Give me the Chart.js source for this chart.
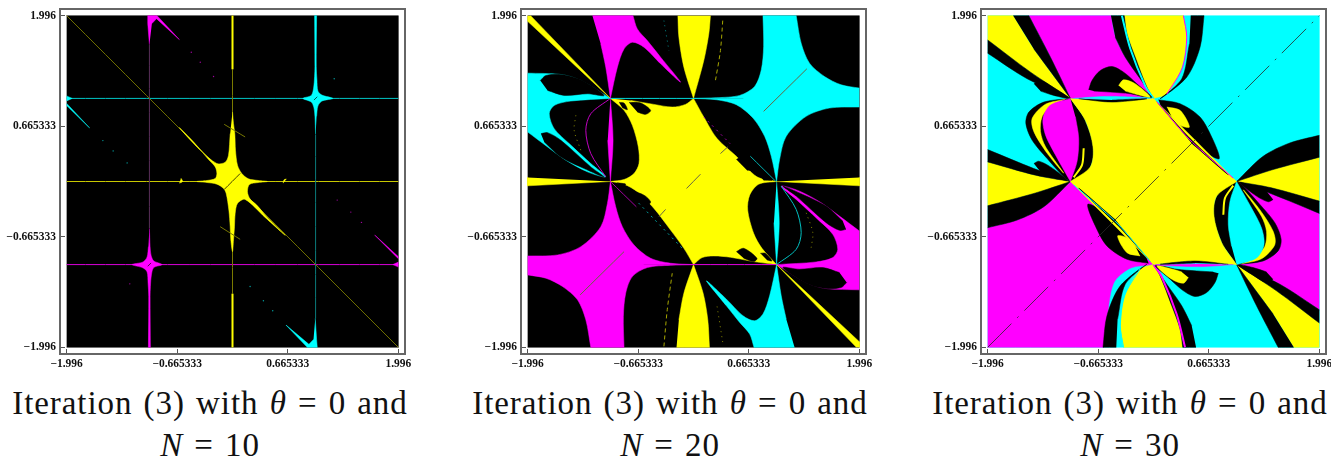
<!DOCTYPE html>
<html>
<head>
<meta charset="utf-8">
<script src="https://cdn.jsdelivr.net/npm/chart.js@4"></script>
<style>
  html, body { margin: 0; background: #fff; overflow: hidden; width: 1331px; height: 458px; }
  canvas { position: absolute; top: 0; }
  .cap { position: absolute; width: 460px; text-align: center; font: 33px/42px "Liberation Serif", serif; color: #111; top: 382px; word-spacing: 2px; letter-spacing: 0.93px; white-space: nowrap; }
</style>
</head>
<body>
<canvas id="c10" width="440" height="372" style="left:0"></canvas>
<canvas id="c20" width="440" height="372" style="left:461px"></canvas>
<canvas id="c30" width="440" height="372" style="left:921px"></canvas>
<div class="cap" style="left:-20px">Iteration (3) with <i>θ</i> = 0 and<br><i>N</i> = 10</div>
<div class="cap" style="left:440px">Iteration (3) with <i>θ</i> = 0 and<br><i>N</i> = 20</div>
<div class="cap" style="left:900px">Iteration (3) with <i>θ</i> = 0 and<br><i>N</i> = 30</div>
<script>
const tickValues = [-1.996, -0.665333, 0.665333, 1.996];
const tickLabels = ["−1.996", "−0.665333", "0.665333", "1.996"];
const plotRect = [-1.996,-1.996, 1.996,-1.996, 1.996,1.996, -1.996,1.996];

// N = 10
const n10YellowStar = [0,0.836, 0.012,0.696, 0.028,0.576, 0.036,0.376, 0.06,0.196, 0.112,0.096, 0.192,0.032, 0.312,0.012, 0.42,0, 0.312,-0.012, 0.204,-0.036, 0.18,-0.124, 0.212,-0.212, 0.292,-0.284, 0.412,-0.424, 0.636,-0.648, 0.392,-0.432, 0.152,-0.216, 0.06,-0.264, 0.032,-0.384, 0.024,-0.544, 0.012,-0.704, 0,-0.844, -0.02,-0.704, -0.028,-0.544, -0.044,-0.344, -0.076,-0.144, -0.108,-0.084, -0.188,-0.032, -0.308,-0.012, -0.428,0, -0.308,0.012, -0.208,0.036, -0.188,0.096, -0.208,0.176, -0.288,0.264, -0.468,0.476, -0.64,0.648, -0.388,0.376, -0.188,0.216, -0.088,0.232, -0.048,0.316, -0.028,0.576];
const n10MagentaStar = [-1,-0.564, -0.992,-0.784, -0.98,-0.888, -0.948,-0.956, -0.848,-1, -0.948,-1.036, -0.976,-1.124, -0.988,-1.264, -0.992,-1.384, -0.988,-1.996, -1.012,-1.996, -1.008,-1.384, -1.016,-1.224, -1.028,-1.088, -1.076,-1.04, -1.208,-1, -1.076,-0.968, -1.028,-0.908, -1.012,-0.784];
const n10CyanStar = [1,0.564, 0.992,0.784, 0.98,0.888, 0.948,0.956, 0.848,1, 0.948,1.036, 0.976,1.124, 0.988,1.264, 0.992,1.384, 0.988,1.996, 1.012,1.996, 1.008,1.384, 1.016,1.224, 1.028,1.088, 1.076,1.04, 1.208,1, 1.076,0.968, 1.028,0.908, 1.012,0.784];
const n10CyanFoot = [0.996,-1.648, 1.012,-1.9, 1.02,-1.996, 0.9,-1.996, 0.644,-1.728, 0.92,-1.96, 0.975,-1.9];
const n10MagentaHead = [-1,1.65, -1.02,1.9, -1.02,1.996, -0.908,1.996, -0.64,1.708, -0.915,1.96, -0.97,1.9];
const n10CyanEdge = [-1.996,1.03, -1.93,1, -1.996,0.97];
const n10CyanTail = [-1.996,0.94, -1.72,0.645, -1.996,0.915];
const n10MagentaEdge = [1.996,-1.03, 1.93,-1, 1.996,-0.97];
const n10MagentaTail = [1.996,-0.93, 1.712,-0.645, 1.996,-0.905];
const n10BumpLeft = [-0.62,0.04, -0.6,0, -0.64,-0.02];
const n10BumpRight = [0.61,-0.02, 0.62,0.02, 0.65,0.03];
const n10SpecksMagenta = [-0.496,1.556, -0.388,1.436, -0.228,1.264, 1.26,-0.224, 1.424,-0.368, 1.552,-0.492, -1.236,-1.232];
const n10SpecksCyan = [1.224,1.236, -1.56,0.492, -1.436,0.368, -1.268,0.224, 0.212,-1.264, 0.372,-1.436, 0.484,-1.556];

// N = 20
const n20MagentaTop = [-1.216,1.996, -0.728,1.996, -0.676,1.836, -0.556,1.696, -0.396,1.496, -0.156,1.196, -0.396,1.416, -0.596,1.616, -0.736,1.676, -0.836,1.596, -0.916,1.376, -1,1, -1.056,1.376, -1.116,1.656];
const n20MagentaLens = [-1,1, -0.968,0.496, -1,0, -1.032,0.496];
const n20MagentaLow = [-1.996,-0.896, -1.636,-0.884, -1.356,-0.784, -1.116,-0.544, -1.036,-0.264, -1,0, -0.936,-0.304, -0.856,-0.544, -0.716,-0.764, -0.516,-0.924, -0.276,-0.984, 0,-1, -0.276,-1.008, -0.556,-1.036, -0.736,-1.144, -0.816,-1.344, -0.844,-1.624, -0.836,-1.996, -1.236,-1.996, -1.296,-1.664, -1.396,-1.424, -1.576,-1.264, -1.776,-1.164, -1.996,-1.124];
const n20CyanHigh = [1.996,0.896, 1.636,0.884, 1.356,0.784, 1.116,0.544, 1.036,0.264, 1,0, 0.936,0.304, 0.856,0.544, 0.716,0.764, 0.516,0.924, 0.276,0.984, 0,1, 0.276,1.008, 0.556,1.036, 0.736,1.144, 0.816,1.344, 0.844,1.624, 0.836,1.996, 1.236,1.996, 1.296,1.664, 1.396,1.424, 1.576,1.264, 1.776,1.164, 1.996,1.124];
const n20CyanLens = [1,0, 1.032,-0.496, 1,-1, 0.968,-0.496];
const n20CyanBottom = [1.216,-1.996, 0.728,-1.996, 0.676,-1.836, 0.556,-1.696, 0.396,-1.496, 0.156,-1.196, 0.396,-1.416, 0.596,-1.616, 0.736,-1.676, 0.836,-1.596, 0.916,-1.376, 1,-1, 1.056,-1.376, 1.116,-1.656];
const n20CyanLeft = [-1.996,1.304, -1.596,1.288, -1.356,1.216, -1,1, -1.476,0.968, -1.676,0.916, -1.736,0.816, -1.676,0.636, -1.496,0.456, -1.236,0.216, -1.056,0.056, -1.276,0.116, -1.536,0.256, -1.756,0.416, -1.996,0.596];
const n20MagentaRight = [1.996,-1.304, 1.596,-1.288, 1.356,-1.216, 1,-1, 1.476,-0.968, 1.676,-0.916, 1.736,-0.816, 1.676,-0.636, 1.496,-0.456, 1.236,-0.216, 1.056,-0.056, 1.276,-0.116, 1.536,-0.256, 1.756,-0.416, 1.996,-0.596];
const n20LeafLeftA = [-1.844,1.216, -1.776,1.276, -1.596,1.288, -1.356,1.224, -1.076,1.036, -1.276,1.056, -1.556,1.036, -1.756,1.096];
const n20LeafLeftB = [-1.836,0.576, -1.756,0.588, -1.596,0.496, -1.236,0.176, -1.076,0.056, -1.316,0.156, -1.596,0.296, -1.796,0.476];
const n20LeafRightA = [1.844,-1.216, 1.776,-1.276, 1.596,-1.288, 1.356,-1.224, 1.076,-1.036, 1.276,-1.056, 1.556,-1.036, 1.756,-1.096];
const n20LeafRightB = [1.836,-0.576, 1.756,-0.588, 1.596,-0.496, 1.236,-0.176, 1.076,-0.056, 1.316,-0.156, 1.596,-0.296, 1.796,-0.476];
const n20YellowLeft = [-1.996,0.048, -1.996,-0.052, -1,0];
const n20YellowRight = [1.996,0.048, 1.996,-0.052, 1,0];
const n20YellowCornerTL = [-1.96,1.996, -1,1, -1.996,1.928, -1.996,1.996];
const n20YellowCornerBR = [1.96,-1.996, 1,-1, 1.996,-1.928, 1.996,-1.996];
const n20YellowTop = [-0.188,1.996, -0.176,1.736, -0.116,1.376, 0,1, 0.124,1.456, 0.184,1.776, 0.204,1.996];
const n20YellowBottom = [-0.204,-1.996, 0.192,-1.996, 0.172,-1.664, 0.116,-1.344, 0,-1, -0.116,-1.344, -0.176,-1.664];
const n20YellowCentre = [-1,1, -0.836,0.856, -0.736,0.676, -0.664,0.416, -0.656,0.216, -0.716,0.096, -0.836,0.024, -1,0, -0.836,-0.032, -0.676,-0.124, -0.476,-0.324, -0.276,-0.584, -0.116,-0.804, 0,-1, 0.104,-0.916, 0.244,-0.896, 0.444,-0.912, 0.724,-0.964, 1,-1, 0.824,-0.804, 0.724,-0.624, 0.652,-0.344, 0.676,-0.164, 0.784,-0.032, 1,0, 0.764,0.056, 0.524,0.296, 0.284,0.516, 0.124,0.776, 0,1, -0.096,0.928, -0.256,0.896, -0.476,0.928, -0.756,0.976];
const n20LeafA = [-0.896,0.952, -0.836,0.944, -0.796,0.864, -0.856,0.888];
const n20LeafB = [-0.776,0.952, -0.636,0.944, -0.516,0.856, -0.576,0.808, -0.676,0.836];
const n20LeafC = [-0.916,-0.016, -0.816,-0.032, -0.856,-0.064];
const n20LeafD = [-0.736,-0.112, -0.596,-0.164, -0.516,-0.244, -0.556,-0.284, -0.676,-0.216];
const n20LeafE = [0.516,0.264, 0.564,0.288, 0.724,0.136, 0.644,0.136];
const n20LeafF = [0.804,0.056, 0.944,0.016, 0.844,0.016];
const n20LeafG = [0.516,-0.844, 0.604,-0.804, 0.764,-0.924, 0.724,-0.964, 0.604,-0.924];
const n20LeafH = [0.804,-0.864, 0.864,-0.864, 0.944,-0.956, 0.884,-0.944];
const n20ArcMagenta = [-1,1, -1.236,0.816, -1.296,0.616, -1.236,0.336, -1.056,0.056];
const n20ArcCyan = [1,-1, 1.236,-0.816, 1.296,-0.616, 1.236,-0.336, 1.056,-0.056];
const n20ArcYellowL = [-1.416,0.796, -1.436,0.616, -1.356,0.376];
const n20ArcYellowR = [1.416,-0.796, 1.436,-0.616, 1.356,-0.376];
const n20DotsTopR = [0.352,1.936, 0.324,1.576, 0.264,1.216];
const n20DotsBottomL = [-0.356,-1.984, -0.316,-1.544, -0.256,-1.104];
const n20DotsTopL = [-0.356,1.936, -0.296,1.576];
const n20DotsBottomR = [0.284,-1.504, 0.352,-1.936];
const n20DotsSW = [-0.66,-0.26, -0.12,-0.82];
const n20DotsNE = [0.124,0.776, 0.44,0.456];
const n20TailMagenta = [-1,0, -0.688,-0.304];
const n20TailCyan = [0.684,0.304, 0.992,0];
const n20Dash = [
  [0.324,0.336, 0.412,0.416], [-0.084,-0.084, 0.084,0.088], [-0.416,-0.424, -0.336,-0.336],
  [-1.364,-1.364, -0.836,-0.844], [0.844,0.844, 1.364,1.356]
];

// N = 30
const n30MagentaLow = [-1.996,-0.556, -1.64,-0.464, -1.32,-0.304, -1,0, 0,-1, -0.28,-1.044, -0.48,-1.224, -0.56,-1.664, -0.6,-1.996, -1.996,-1.996];
const n30MagentaTop = [-1.5,1.996, -0.512,1.996, -0.46,1.736, -0.34,1.496, -0.16,1.236, 0,1, -1,1, -1.24,1.496];
const n30MagentaRight = [1.996,-1.544, 1.52,-1.236, 1,-1, 1.32,-0.956, 1.5,-0.836, 1.528,-0.696, 1.44,-0.496, 1.28,-0.296, 1,0, 1.44,-0.156, 1.996,-0.384];
const n30YellowTL = [-1.996,1.996, -1.688,1.996, -1.44,1.596, -1,1, -1.48,1.316, -1.996,1.704];
const n30YellowBR = [1.996,-1.996, 1.688,-1.996, 1.44,-1.596, 1,-1, 1.48,-1.316, 1.996,-1.704];
const n30YellowL = [-1.996,0.236, -1.42,0.076, -1,0, -1.44,-0.144, -1.996,-0.292];
const n30YellowR = [1.996,-0.236, 1.42,-0.076, 1,0, 1.44,0.144, 1.996,0.292];
const n30YellowTop = [-0.352,1.996, 0.36,1.996, 0.392,1.736, 0.34,1.376, 0.16,1.056, 0,1, -0.08,1.136, -0.22,1.496, -0.32,1.776];
const n30YellowBottom = [0.352,-1.996, -0.36,-1.996, -0.392,-1.736, -0.34,-1.376, -0.16,-1.056, 0,-1, 0.08,-1.136, 0.22,-1.496, 0.32,-1.776];
const n30YellowCentre = [-1,1, -0.82,0.736, -0.728,0.416, -0.76,0.176, -1,0, 0,-1, 0.44,-0.964, 1,-1, 0.82,-0.736, 0.728,-0.416, 0.76,-0.176, 1,0, 0,1, -0.44,0.964];
const n30BlackTLa = [-1.688,1.996, -1.5,1.996, -1.24,1.496, -1,1, -1.44,1.596];
const n30BlackBRa = [1.688,-1.996, 1.5,-1.996, 1.24,-1.496, 1,-1, 1.44,-1.596];
const n30BlackTLb = [-1.996,1.704, -1.48,1.316, -1,1, -1.52,1.236, -1.996,1.544];
const n30BlackBRb = [1.996,-1.704, 1.48,-1.316, 1,-1, 1.52,-1.236, 1.996,-1.544];
const n30BlackLa = [-1.996,0.384, -1.44,0.156, -1,0, -1.42,0.076, -1.996,0.236];
const n30BlackRa = [1.996,-0.384, 1.44,-0.156, 1,0, 1.42,-0.076, 1.996,-0.236];
const n30BlackLb = [-1.996,-0.292, -1.44,-0.144, -1,0, -1.32,-0.304, -1.64,-0.464, -1.996,-0.556];
const n30BlackRb = [1.996,0.292, 1.44,0.144, 1,0, 1.32,0.304, 1.64,0.464, 1.996,0.556];
const n30BlackTopL = [-0.512,1.996, -0.352,1.996, -0.32,1.776, -0.22,1.496, -0.08,1.136, 0,1, -0.16,1.236, -0.34,1.496, -0.46,1.736];
const n30BlackBotR = [0.512,-1.996, 0.352,-1.996, 0.32,-1.776, 0.22,-1.496, 0.08,-1.136, 0,-1, 0.16,-1.236, 0.34,-1.496, 0.46,-1.736];
const n30BlackTopR = [0.448,1.996, 0.608,1.996, 0.56,1.616, 0.4,1.256, 0.08,0.996, 0.34,1.236, 0.432,1.656];
const n30BlackBotL = [-0.448,-1.996, -0.608,-1.996, -0.56,-1.616, -0.4,-1.256, -0.08,-0.996, -0.34,-1.236, -0.432,-1.656];
const n30LeafUp = [-0.78,1.104, -0.74,1.216, -0.64,1.336, -0.5,1.384, -0.36,1.316, -0.2,1.176, -0.02,1.008, -0.28,1.056, -0.52,1.076, -0.72,1.088];
const n30LeafDown = [0.78,-1.104, 0.74,-1.216, 0.64,-1.336, 0.5,-1.384, 0.36,-1.316, 0.2,-1.176, 0.02,-1.008, 0.28,-1.056, 0.52,-1.076, 0.72,-1.088];
const n30LeafUpY = [-0.42,1.156, -0.36,1.224, -0.22,1.176, -0.04,1.016, -0.2,1.048, -0.34,1.088];
const n30LeafDownY = [0.42,-1.156, 0.36,-1.224, 0.22,-1.176, 0.04,-1.016, 0.2,-1.048, 0.34,-1.088];
const n30LeafNE = [0.06,0.984, 0.32,0.936, 0.56,0.776, 0.7,0.536, 0.792,0.276, 0.64,0.336, 0.44,0.476, 0.28,0.596, 0.12,0.816];
const n30LeafNEY = [0.16,0.896, 0.32,0.856, 0.432,0.656, 0.32,0.676, 0.22,0.776];
const n30LeafSW = [-0.06,-0.984, -0.32,-0.936, -0.56,-0.776, -0.7,-0.536, -0.792,-0.276, -0.64,-0.336, -0.44,-0.476, -0.28,-0.596, -0.12,-0.816];
const n30LeafSWY = [-0.16,-0.896, -0.32,-0.856, -0.432,-0.656, -0.32,-0.676, -0.22,-0.776];
const n30LensNE = [0.04,0.96, 0.42,0.54, 0.9,0.08, 0.46,0.46];
const n30LensSW = [-0.04,-0.96, -0.42,-0.54, -0.9,-0.08, -0.46,-0.46];
const n30LineNE = [0.04,0.96, 0.44,0.5, 0.96,0.04];
const n30LineSW = [-0.04,-0.96, -0.44,-0.5, -0.96,-0.04];
const n30LeafLa = [-1.44,1.176, -1.36,1.216, -1.2,1.128, -1.02,1.004, -1.2,1.036, -1.36,1.088];
const n30LeafRa = [1.44,-1.176, 1.36,-1.216, 1.2,-1.128, 1.02,-1.004, 1.2,-1.036, 1.36,-1.088];
const n30LeafLb = [-1.44,0.216, -1.38,0.244, -1.24,0.176, -1.04,0.016, -1.2,0.056, -1.36,0.116];
const n30LeafRb = [1.44,-0.216, 1.38,-0.244, 1.24,-0.176, 1.04,-0.016, 1.2,-0.056, 1.36,-0.116];
const n30ArcBlackL = [-1,1, -1.32,0.956, -1.5,0.836, -1.536,0.696, -1.46,0.496, -1.28,0.276, -1.06,0.036, -1,0, -0.8,0.116, -0.728,0.296, -0.74,0.496, -0.84,0.776];
const n30ArcBlackR = [1,-1, 1.32,-0.956, 1.5,-0.836, 1.536,-0.696, 1.46,-0.496, 1.28,-0.276, 1.06,-0.036, 1,0, 0.8,-0.116, 0.728,-0.296, 0.74,-0.496, 0.84,-0.776];
const n30ArcYellowL = [-1.06,0.99, -1.3,0.93, -1.46,0.76, -1.44,0.6, -1.28,0.34, -1.08,0.1, -1.3,0.42, -1.36,0.6, -1.34,0.78, -1.22,0.92];
const n30ArcYellowR = [1.06,-0.99, 1.3,-0.93, 1.46,-0.76, 1.44,-0.6, 1.28,-0.34, 1.08,-0.1, 1.3,-0.42, 1.36,-0.6, 1.34,-0.78, 1.22,-0.92];
const n30ThinYellowL = [-0.96,0.05, -0.86,0.2, -0.84,0.4];
const n30ThinYellowR = [0.96,-0.05, 0.86,-0.2, 0.84,-0.4];
const n30InnerMagenta = [-1,1, -1.24,0.92, -1.33,0.76, -1.3,0.56, -1.18,0.32, -1,0, -0.92,0.24, -0.9,0.52, -0.94,0.78];
const n30InnerCyan = [1,-1, 1.24,-0.92, 1.33,-0.76, 1.3,-0.56, 1.18,-0.32, 1,0, 0.92,-0.24, 0.9,-0.52, 0.94,-0.78];
const n30TopCyan = [-0.96,1, -0.56,1.024, -0.02,1.004, -0.56,0.992];
const n30TopBlack = [-0.9,0.996, -0.5,0.956, -0.08,0.996, -0.5,0.98];
const n30BotMagenta = [0.96,-1, 0.56,-1.024, 0.02,-1.004, 0.56,-0.992];
const n30BotBlack = [0.9,-0.996, 0.5,-0.956, 0.08,-0.996, 0.5,-0.98];
const n30StripeTR = [0.36,1.996, 0.4,1.736, 0.35,1.376, 0.16,1.05];
const n30StripeBL = [-0.36,-1.996, -0.4,-1.736, -0.35,-1.376, -0.16,-1.05];
const n30StripeTL = [-0.38,1.996, -0.28,1.6, -0.1,1.15, 0,1];
const n30StripeBR = [0.38,-1.996, 0.28,-1.6, 0.1,-1.15, 0,-1];
const n30Diagonal = [-1.996,-1.996, 1.996,1.996];

const Y = "#ffff00", M = "#ff00ff", C = "#00ffff", K = "#000000";

function xy(flat) {
  const out = [];
  for (let i = 0; i < flat.length; i += 2) out.push({ x: flat[i], y: flat[i + 1] });
  return out;
}
// vertices on the plot edge or on a junction stay sharp: a doubled point has no curve through it
function isCorner(p) {
  const onEdge = Math.abs(p.x) > 1.99 || Math.abs(p.y) > 1.99;
  const onJunction = Number.isInteger(p.x) && Number.isInteger(p.y);
  return onEdge || onJunction;
}
function outline(flat) {
  const out = [];
  xy(flat).forEach(function(p) {
    out.push(p);
    if (isCorner(p)) out.push({ x: p.x, y: p.y });
  });
  return out;
}
function shape(flat, color, tension) {
  return { data: outline(flat), showLine: true, fill: "shape", backgroundColor: color, borderColor: color, borderWidth: 0.5, pointRadius: 0, tension: tension === undefined ? 0.3 : tension };
}
function stroke(flat, color, width, dash) {
  return { data: xy(flat), showLine: true, fill: false, borderColor: color, borderWidth: width || 1, borderDash: dash || [], pointRadius: 0, tension: 0.3 };
}
function specks(flat, color) {
  return { data: xy(flat), showLine: false, pointRadius: 0.7, pointBorderWidth: 0, backgroundColor: color };
}

const n10Layers = [
  shape(plotRect, K, 0),
  stroke([-1.996,1, 1.996,1], "#00c4c4"),
  stroke([-1.996,0, 1.996,0], "#c8c800"),
  stroke([-1.996,-1, 1.996,-1], "#d800d8"),
  stroke([-1,1.65, -1,-0.56], "#5a2f5a"),
  stroke([1,0.56, 1,-1.65], "#0b7a7a"),
  stroke([0,1.35, 0,-1.35], "#7a7a00"),
  stroke([-1.996,1.996, 1.996,-1.996], "#6e6e00"),
  stroke([0,1.996, 0,1.35], Y, 2),
  stroke([0,-1.35, 0,-1.996], Y, 2),
  shape(n10YellowStar, Y),
  stroke([-0.1,-0.096, 0.092,0.096], "#444400"),
  stroke([-0.1,0.688, 0.152,0.536], "#777700"),
  stroke([-0.148,-0.544, 0.092,-0.696], "#777700"),
  shape(n10BumpLeft, Y),
  shape(n10BumpRight, Y),
  shape(n10MagentaStar, M),
  stroke([-1.02,-1.02, -0.98,-0.98], "#550055"),
  shape(n10CyanStar, C),
  stroke([0.98,0.98, 1.02,1.02], "#005555"),
  shape(n10CyanFoot, C, 0),
  shape(n10MagentaHead, M, 0),
  shape(n10CyanEdge, C, 0),
  shape(n10CyanTail, C, 0),
  shape(n10MagentaEdge, M, 0),
  shape(n10MagentaTail, M, 0),
  specks(n10SpecksMagenta, "#a000a0"),
  specks(n10SpecksCyan, "#00a0a0")
];

const n20Layers = [
  shape(plotRect, K, 0),
  shape(n20MagentaTop, M),
  shape(n20MagentaLens, M),
  shape(n20MagentaLow, M),
  shape(n20CyanHigh, C),
  shape(n20CyanLens, C),
  shape(n20CyanBottom, C),
  shape(n20CyanLeft, C),
  shape(n20MagentaRight, M),
  shape(n20LeafLeftA, K),
  shape(n20LeafLeftB, K),
  shape(n20LeafRightA, K),
  shape(n20LeafRightB, K),
  shape(n20YellowLeft, Y, 0),
  shape(n20YellowRight, Y, 0),
  shape(n20YellowCornerTL, Y, 0),
  shape(n20YellowCornerBR, Y, 0),
  shape(n20YellowTop, Y),
  shape(n20YellowBottom, Y),
  shape(n20YellowCentre, Y),
  shape(n20LeafA, K), shape(n20LeafB, K), shape(n20LeafC, K), shape(n20LeafD, K),
  shape(n20LeafE, K), shape(n20LeafF, K), shape(n20LeafG, K), shape(n20LeafH, K),
  stroke([-1,1, 0.6,1], "#00d8d8"),
  stroke([-0.6,-1, 1,-1], "#e000e0"),
  stroke(n20ArcMagenta, "#c000c0"),
  stroke(n20ArcCyan, "#00c0c0"),
  stroke(n20ArcYellowL, "#8a8a00", 1, [1, 4]),
  stroke(n20ArcYellowR, "#8a8a00", 1, [1, 4]),
  stroke(n20DotsTopR, "#a8a800", 1, [4, 3]),
  stroke(n20DotsBottomL, "#a8a800", 1, [4, 3]),
  stroke(n20DotsTopL, "#008888", 1, [1, 4]),
  stroke(n20DotsBottomR, "#888800", 1, [1, 4]),
  stroke(n20DotsSW, "#00a0a0", 1, [2, 4]),
  stroke(n20DotsNE, "#a000a0", 1, [2, 4]),
  stroke(n20TailMagenta, "#a000a0"),
  stroke(n20TailCyan, "#00b0b0")
].concat(n20Dash.map(function(d) { return stroke(d, "#666644"); }));

const n30Layers = [
  shape(plotRect, C, 0),
  shape(n30MagentaLow, M),
  shape(n30MagentaTop, M),
  shape(n30MagentaRight, M),
  shape(n30YellowTL, Y), shape(n30YellowBR, Y),
  shape(n30YellowL, Y), shape(n30YellowR, Y),
  shape(n30YellowTop, Y), shape(n30YellowBottom, Y),
  shape(n30BlackTLa, K), shape(n30BlackBRa, K),
  shape(n30BlackTLb, K), shape(n30BlackBRb, K),
  shape(n30BlackLa, K), shape(n30BlackRa, K),
  shape(n30BlackLb, K), shape(n30BlackRb, K),
  shape(n30BlackTopL, K), shape(n30BlackBotR, K),
  shape(n30BlackTopR, K), shape(n30BlackBotL, K),
  stroke(n30StripeTR, M, 1), stroke(n30StripeBL, C, 1),
  stroke(n30StripeTL, C, 2), stroke(n30StripeBR, M, 2),
  shape(n30LeafUp, K), shape(n30LeafDown, K),
  shape(n30LeafUpY, Y), shape(n30LeafDownY, Y),
  shape(n30LeafNE, K), shape(n30LeafSW, K),
  shape(n30LeafNEY, Y), shape(n30LeafSWY, Y),
  shape(n30LeafLa, K), shape(n30LeafRa, K),
  shape(n30LeafLb, K), shape(n30LeafRb, K),
  shape(n30ArcBlackL, K), shape(n30ArcBlackR, K),
  shape(n30ArcYellowL, Y), shape(n30ArcYellowR, Y),
  shape(n30InnerMagenta, M), shape(n30InnerCyan, C),
  shape(n30YellowCentre, Y),
  stroke(n30ThinYellowL, Y, 2), stroke(n30ThinYellowR, Y, 2),
  shape(n30LensNE, K), shape(n30LensSW, K),
  stroke(n30LineNE, M, 1), stroke(n30LineSW, C, 1),
  shape(n30TopCyan, C), shape(n30TopBlack, K),
  shape(n30BotMagenta, M), shape(n30BotBlack, K),
  stroke(n30Diagonal, "rgba(40,40,40,0.8)", 1, [34, 8, 2, 8])
];

// grey box round the plot
const framePlugin = {
  id: "frame",
  afterDraw(chart) {
    const a = chart.chartArea, ctx = chart.ctx;
    ctx.save();
    ctx.strokeStyle = "#666";
    ctx.lineWidth = 2;
    ctx.strokeRect(a.left, a.top, a.right - a.left, a.bottom - a.top);
    ctx.restore();
  }
};

function axis(pos) {
  return {
    type: "linear",
    position: pos,
    min: -2.076,
    max: 2.076,
    border: { display: false },
    grid: { drawOnChartArea: false, color: "#555", tickLength: -5, tickWidth: 1 },
    ticks: {
      color: "#111",
      padding: pos === "left" ? 9 : 8,
      autoSkip: false,
      maxRotation: 0,
      font: { family: "Liberation Serif", size: 11.5, weight: "bold" },
      callback: function(v, i) { return tickLabels[i]; }
    },
    afterBuildTicks: function(s) { s.ticks = tickValues.map(function(v) { return { value: v }; }); },
    afterFit: function(s) {
      if (pos === "left") s.width = 60; else s.height = 18;
      // no room kept for half a tick label past the axis ends
      s.paddingTop = s.paddingBottom = s.paddingLeft = s.paddingRight = 0;
    }
  };
}

function makeChart(id, layers) {
  layers.forEach(function(d, i) { d.order = layers.length - i; });
  return new Chart(document.getElementById(id), {
    type: "scatter",
    data: { datasets: layers },
    options: {
      responsive: false,
      animation: false,
      layout: { padding: { top: 9, right: 35, left: 0, bottom: 0 } },
      plugins: { legend: { display: false }, tooltip: { enabled: false } },
      scales: { x: axis("bottom"), y: axis("left") }
    },
    plugins: [framePlugin]
  });
}

makeChart("c10", n10Layers);
makeChart("c20", n20Layers);
makeChart("c30", n30Layers);
</script>
</body>
</html>
